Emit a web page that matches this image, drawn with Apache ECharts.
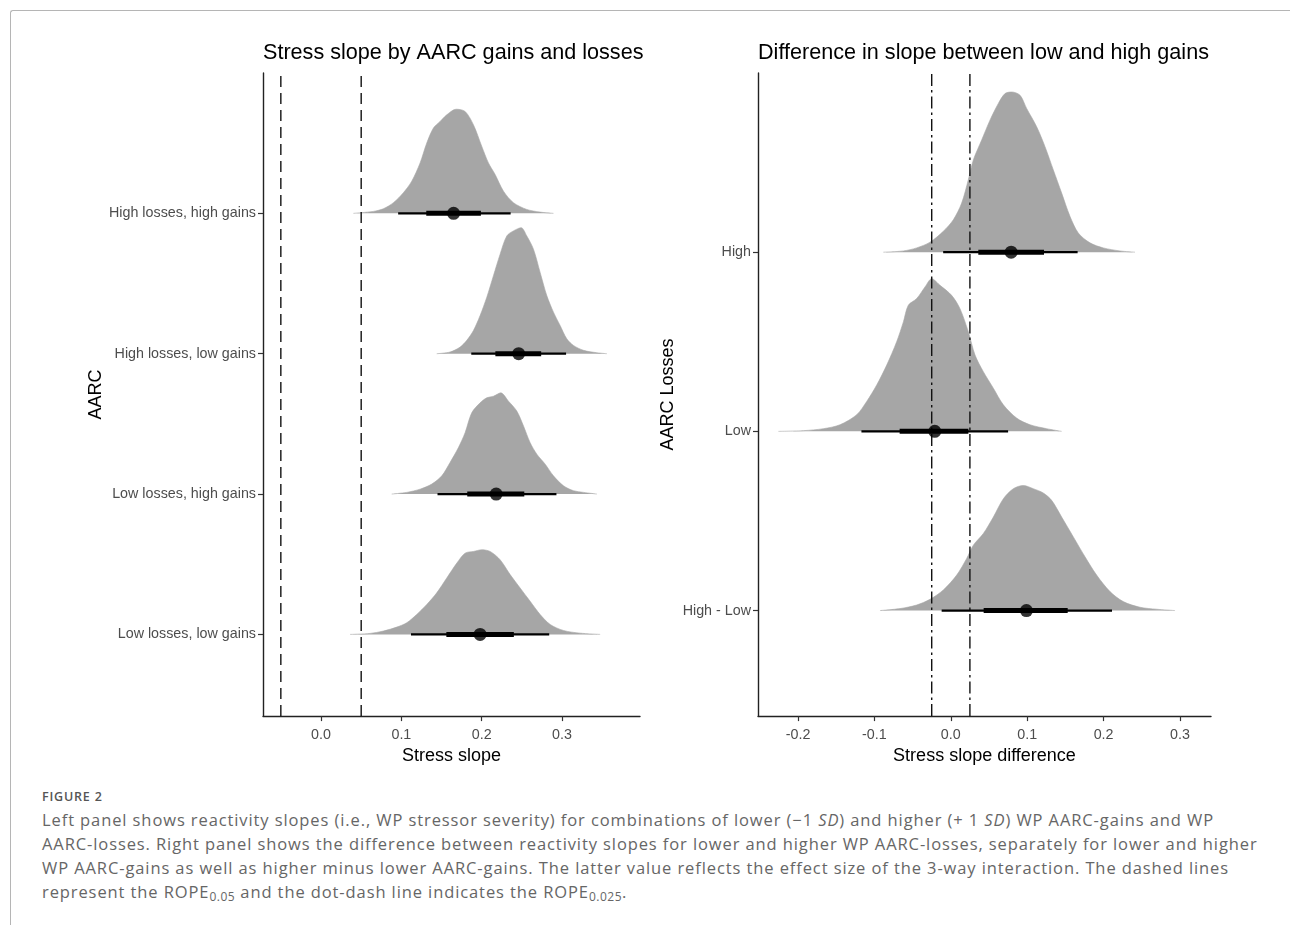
<!DOCTYPE html>
<html>
<head>
<meta charset="utf-8">
<script src="https://cdn.jsdelivr.net/npm/echarts@6/dist/echarts.min.js"></script>
<style>
  html, body { margin: 0; padding: 0; background: #fff; }
  #wrap { position: relative; width: 1290px; height: 925px; overflow: hidden; }
  #frame { position: absolute; left: 10px; top: 10px; width: 1290px; height: 930px;
           border-top: 1px solid #b5b5b5; border-left: 1px solid #b5b5b5; border-top-left-radius: 3px; }
  #chart { position: absolute; left: 0; top: 0; width: 1290px; height: 770px; }
  #fig { position: absolute; left: 42px; top: 788px; font-family: "Open Sans", sans-serif;
         font-size: 12.5px; font-weight: 600; color: #555; letter-spacing: 0.8px; }
  #cap { position: absolute; left: 42px; top: 808px; font-family: "Open Sans", sans-serif;
         font-size: 16.5px; line-height: 24px; color: #666; white-space: nowrap; letter-spacing: 0.9px; }
  #cap sub { font-size: 12px; vertical-align: -3px; line-height: 0; letter-spacing: 0.5px; }
</style>
</head>
<body>
<div id="wrap">
  <div id="frame"></div>
  <div id="chart"></div>
  <div id="fig">FIGURE 2</div>
  <div id="cap">Left panel shows reactivity slopes (i.e., WP stressor severity) for combinations of lower (&minus;1 <i>SD</i>) and higher (+ 1 <i>SD</i>) WP AARC-gains and WP<br>AARC-losses. Right panel shows the difference between reactivity slopes for lower and higher WP AARC-losses, separately for lower and higher<br>WP AARC-gains as well as higher minus lower AARC-gains. The latter value reflects the effect size of the 3-way interaction. The dashed lines<br>represent the ROPE<sub>0.05</sub> and the dot-dash line indicates the ROPE<sub>0.025</sub>.</div>
</div>
<script>
// ---------- Left panel data (levels 1..4, bottom to top) ----------
const leftCategories = ['Low losses, low gains', 'Low losses, high gains', 'High losses, low gains', 'High losses, high gains'];
const leftMedian = [0.198, 0.218, 0.246, 0.165];
const leftThick  = [[0.156, 0.240], [0.182, 0.253], [0.217, 0.274], [0.131, 0.199]];
const leftThin   = [[0.112, 0.284], [0.145, 0.293], [0.187, 0.305], [0.096, 0.236]];
// density heights in category units
const densLowLow = [[0.0361,0],[0.0610,0.007],[0.0776,0.024],[0.0942,0.052],[0.1067,0.083],[0.1191,0.142],[0.1316,0.213],[0.1440,0.296],[0.1565,0.402],[0.1690,0.508],[0.1793,0.579],[0.1897,0.591],[0.2001,0.603],[0.2105,0.591],[0.2229,0.532],[0.2354,0.426],[0.2478,0.331],[0.2603,0.236],[0.2727,0.142],[0.2852,0.071],[0.3018,0.028],[0.3225,0.009],[0.3474,0]];
const densLowHigh = [[0.0880,0],[0.1067,0.012],[0.1233,0.035],[0.1378,0.071],[0.1503,0.130],[0.1606,0.225],[0.1710,0.331],[0.1793,0.437],[0.1876,0.579],[0.1980,0.650],[0.2063,0.686],[0.2146,0.697],[0.2237,0.721],[0.2333,0.662],[0.2437,0.591],[0.2520,0.485],[0.2603,0.366],[0.2686,0.284],[0.2790,0.213],[0.2893,0.130],[0.3018,0.059],[0.3142,0.024],[0.3267,0.012],[0.3433,0]];
const densHighLow = [[0.1440,0],[0.1606,0.012],[0.1731,0.047],[0.1814,0.095],[0.1897,0.165],[0.1980,0.272],[0.2063,0.402],[0.2146,0.556],[0.2229,0.709],[0.2312,0.839],[0.2395,0.875],[0.2491,0.898],[0.2561,0.839],[0.2644,0.745],[0.2727,0.579],[0.2810,0.414],[0.2893,0.296],[0.2976,0.201],[0.3059,0.106],[0.3142,0.059],[0.3267,0.024],[0.3433,0.007],[0.3558,0]];
const densHighHigh = [[0.0403,0],[0.0652,0.014],[0.0776,0.033],[0.0901,0.076],[0.1025,0.147],[0.1129,0.229],[0.1233,0.359],[0.1316,0.501],[0.1399,0.608],[0.1482,0.655],[0.1565,0.702],[0.1681,0.742],[0.1793,0.726],[0.1897,0.631],[0.2001,0.477],[0.2084,0.359],[0.2167,0.277],[0.2271,0.158],[0.2395,0.076],[0.2561,0.028],[0.2727,0.009],[0.2893,0]];
const leftDensities = [densLowLow, densLowHigh, densHighLow, densHighHigh];
const leftRope = [-0.05, 0.05];
const leftTicks = [0.0, 0.1, 0.2, 0.3];

// ---------- Right panel data (levels 1..3, bottom to top) ----------
const rightCategories = ['High - Low', 'Low', 'High'];
const rightMedian = [0.099, -0.021, 0.079];
const rightThick  = [[0.043, 0.153], [-0.067, 0.023], [0.036, 0.122]];
const rightThin   = [[-0.012, 0.211], [-0.117, 0.075], [-0.010, 0.166]];
const densDiffHighLow = [[-0.0927,0],[-0.0665,0.011],[-0.0447,0.031],[-0.0272,0.063],[-0.0098,0.115],[0.0077,0.198],[0.0208,0.291],[0.0295,0.365],[0.0426,0.430],[0.0557,0.522],[0.0688,0.624],[0.0818,0.680],[0.0949,0.698],[0.1080,0.680],[0.1211,0.656],[0.1320,0.615],[0.1451,0.522],[0.1604,0.411],[0.1757,0.300],[0.1909,0.198],[0.2084,0.106],[0.2258,0.050],[0.2476,0.0185],[0.2695,0.0074],[0.2935,0]];
const densDiffLow = [[-0.2257,0],[-0.1930,0.004],[-0.1668,0.015],[-0.1450,0.037],[-0.1232,0.093],[-0.1101,0.167],[-0.0970,0.259],[-0.0839,0.370],[-0.0709,0.500],[-0.0621,0.611],[-0.0556,0.704],[-0.0447,0.741],[-0.0338,0.806],[-0.0250,0.852],[-0.0141,0.815],[0.0011,0.759],[0.0120,0.685],[0.0229,0.556],[0.0317,0.426],[0.0426,0.333],[0.0557,0.241],[0.0688,0.148],[0.0862,0.074],[0.1037,0.037],[0.1255,0.015],[0.1451,0]];
const densDiffHigh = [[-0.0883,0],[-0.0621,0.007],[-0.0447,0.024],[-0.0272,0.056],[-0.0098,0.117],[0.0033,0.181],[0.0142,0.274],[0.0229,0.404],[0.0295,0.515],[0.0404,0.626],[0.0513,0.737],[0.0622,0.830],[0.0709,0.885],[0.0797,0.894],[0.0906,0.876],[0.0993,0.802],[0.1124,0.700],[0.1233,0.589],[0.1342,0.459],[0.1451,0.330],[0.1560,0.200],[0.1669,0.107],[0.1822,0.052],[0.1996,0.024],[0.2215,0.007],[0.2411,0]];
const rightDensities = [densDiffHighLow, densDiffLow, densDiffHigh];
const rightRope = [-0.025, 0.025];
const rightTicks = [-0.2, -0.1, 0.0, 0.1, 0.2, 0.3];

// ---------- layout / style ----------
const FONT = '"Liberation Sans", Arial, sans-serif';
const leftX = [-0.0722, 0.397], leftY = [0.418, 5.0];
const rightX = [-0.2524, 0.3406], rightY = [0.411, 4.0];
const FILL = '#a6a6a6';

function xAxisCfg(idx, range, ticks, name) {
  return {
    type: 'value', gridIndex: idx, min: range[0], max: range[1],
    name: name, nameLocation: 'middle', nameGap: 29,
    nameTextStyle: { fontFamily: FONT, fontSize: 18, color: '#000' },
    axisLine: { onZero: false, lineStyle: { color: '#222', width: 1.4 } },
    axisTick: { show: true, length: 5, customValues: ticks, lineStyle: { color: '#333', width: 1.2 } },
    axisLabel: { customValues: ticks, margin: 12, fontFamily: FONT, fontSize: 14.3, color: '#4d4d4d',
                 formatter: v => v.toFixed(1) },
    splitLine: { show: false }
  };
}
function yAxisCfg(idx, range, cats, name, gap) {
  const vals = cats.map((c, i) => i + 1);
  return {
    type: 'value', gridIndex: idx, min: range[0], max: range[1],
    name: name, nameLocation: 'middle', nameGap: gap, nameRotate: 90,
    nameTextStyle: { fontFamily: FONT, fontSize: 18, color: '#000' },
    axisLine: { onZero: false, lineStyle: { color: '#222', width: 1.4 } },
    axisTick: { show: true, length: 5, customValues: vals, lineStyle: { color: '#333', width: 1.2 } },
    axisLabel: { customValues: vals, margin: 7, fontFamily: FONT, fontSize: 14.3, color: '#4d4d4d',
                 formatter: v => cats[Math.round(v) - 1] },
    splitLine: { show: false }
  };
}

const series = [];
function addPanel(idx, dens, med, thick, thin, rope, yRange, ropeDash) {
  dens.forEach((d, i) => {
    const level = i + 1;
    series.push({
      type: 'line', xAxisIndex: idx, yAxisIndex: idx, smooth: 0.3, symbol: 'none', silent: true,
      data: d.map(p => [p[0], level + p[1]]),
      lineStyle: { width: 0.6, color: FILL },
      areaStyle: { color: FILL, opacity: 1, origin: level },
      z: 1
    });
  });
  rope.forEach(r => {
    series.push({
      type: 'line', xAxisIndex: idx, yAxisIndex: idx, symbol: 'none', silent: true,
      data: [[r, yRange[0]], [r, yRange[1]]],
      lineStyle: { color: '#111', width: 1.4, type: ropeDash }, z: 3
    });
  });
  med.forEach((m, i) => {
    const level = i + 1;
    series.push({
      type: 'line', xAxisIndex: idx, yAxisIndex: idx, symbol: 'none', silent: true,
      data: [[thin[i][0], level], [thin[i][1], level]],
      lineStyle: { color: '#000', width: 2.2 }, z: 4
    });
    series.push({
      type: 'line', xAxisIndex: idx, yAxisIndex: idx, symbol: 'none', silent: true,
      data: [[thick[i][0], level], [thick[i][1], level]],
      lineStyle: { color: '#000', width: 5 }, z: 5
    });
  });
  series.push({
    type: 'scatter', xAxisIndex: idx, yAxisIndex: idx, silent: true, symbolSize: 13,
    data: med.map((m, i) => [m, i + 1]),
    itemStyle: { color: '#000' }, z: 6
  });
}
addPanel(0, leftDensities, leftMedian, leftThick, leftThin, leftRope, leftY, [11, 6]);
addPanel(1, rightDensities, rightMedian, rightThick, rightThin, rightRope, rightY, [12, 4, 2.5, 4]);

const chart = echarts.init(document.getElementById('chart'), null, { renderer: 'canvas' });
chart.setOption({
  animation: false,
  backgroundColor: 'transparent',
  title: [
    { text: 'Stress slope by AARC gains and losses', left: 263, top: 42, padding: 0,
      textStyle: { fontFamily: FONT, fontSize: 21.6, fontWeight: 'normal', color: '#000' } },
    { text: 'Difference in slope between low and high gains', left: 758, top: 42, padding: 0,
      textStyle: { fontFamily: FONT, fontSize: 21.6, fontWeight: 'normal', color: '#000' } }
  ],
  grid: [
    { left: 263, top: 73, width: 377, height: 646 },
    { left: 758, top: 73, width: 453, height: 646 }
  ],
  xAxis: [
    xAxisCfg(0, leftX, leftTicks, 'Stress slope'),
    xAxisCfg(1, rightX, rightTicks, 'Stress slope difference')
  ],
  yAxis: [
    yAxisCfg(0, leftY, leftCategories, 'AARC', 158),
    yAxisCfg(1, rightY, rightCategories, 'AARC Losses', 81)
  ],
  series: series
});
</script>
</body>
</html>
